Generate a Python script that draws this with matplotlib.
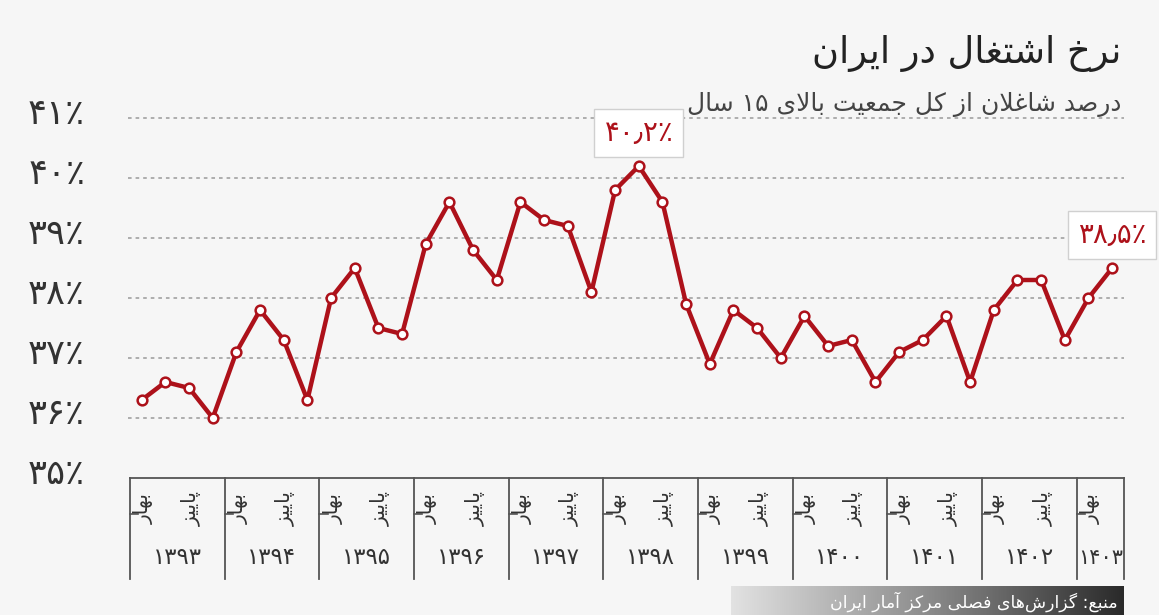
import re
import numpy as np
import matplotlib
matplotlib.use("Agg")
import matplotlib.pyplot as plt
from matplotlib import font_manager
from matplotlib.ft2font import FT2Font
from matplotlib.colors import LinearSegmentedColormap

# --- data (نرخ اشتغال فصلی) ---
years = [1393, 1394, 1395, 1396, 1397, 1398, 1399, 1400, 1401, 1402, 1403]
rate = [36.3, 36.6, 36.5, 36.0,
        37.1, 37.8, 37.3, 36.3,
        38.0, 38.5, 37.5, 37.4,
        38.9, 39.6, 38.8, 38.3,
        39.6, 39.3, 39.2, 38.1,
        39.8, 40.2, 39.6, 37.9,
        36.9, 37.8, 37.5, 37.0,
        37.7, 37.2, 37.3, 36.6,
        37.1, 37.3, 37.7, 36.6,
        37.8, 38.3, 38.3, 37.3,
        38.0, 38.5]
season_labels = ["بهار", "پاییز"]   # فصل اول و سوم هر سال
yticks = [35, 36, 37, 38, 39, 40, 41]
highlight = [21, 41]   # اوج و آخرین فصل

title = "نرخ اشتغال در ایران"
subtitle = "درصد شاغلان از کل جمعیت بالای ۱۵ سال"
source = "منبع: گزارش\u200cهای فصلی مرکز آمار ایران"

# --- شکل‌دهی حروف فارسی (matplotlib خودش انجام نمی‌دهد) ---
FORMS = {
    '\u0627': ('\uFE8D', '\uFE8E'),
    '\u0622': ('\uFE81', '\uFE82'),
    '\u062F': ('\uFEA9', '\uFEAA'),
    '\u0631': ('\uFEAD', '\uFEAE'),
    '\u0632': ('\uFEAF', '\uFEB0'),
    '\u0628': ('\uFE8F', '\uFE90', '\uFE91', '\uFE92'),
    '\u062A': ('\uFE95', '\uFE96', '\uFE97', '\uFE98'),
    '\u062C': ('\uFE9D', '\uFE9E', '\uFE9F', '\uFEA0'),
    '\u062E': ('\uFEA5', '\uFEA6', '\uFEA7', '\uFEA8'),
    '\u0633': ('\uFEB1', '\uFEB2', '\uFEB3', '\uFEB4'),
    '\u0634': ('\uFEB5', '\uFEB6', '\uFEB7', '\uFEB8'),
    '\u0635': ('\uFEB9', '\uFEBA', '\uFEBB', '\uFEBC'),
    '\u0639': ('\uFEC9', '\uFECA', '\uFECB', '\uFECC'),
    '\u063A': ('\uFECD', '\uFECE', '\uFECF', '\uFED0'),
    '\u0641': ('\uFED1', '\uFED2', '\uFED3', '\uFED4'),
    '\u0644': ('\uFEDD', '\uFEDE', '\uFEDF', '\uFEE0'),
    '\u0645': ('\uFEE1', '\uFEE2', '\uFEE3', '\uFEE4'),
    '\u0646': ('\uFEE5', '\uFEE6', '\uFEE7', '\uFEE8'),
    '\u0647': ('\uFEE9', '\uFEEA', '\uFEEB', '\uFEEC'),
    '\u067E': ('\uFB56', '\uFB57', '\uFB58', '\uFB59'),
    '\u06A9': ('\uFB8E', '\uFB8F', '\uFB90', '\uFB91'),
    '\u06AF': ('\uFB92', '\uFB93', '\uFB94', '\uFB95'),
    '\u06CC': ('\uFBFC', '\uFBFD', '\uFBFE', '\uFBFF'),
}
# اگر فونت شکل فارسی را نداشت: ی با الف مقصوره/یای عربی، ک با کاف عربی
ALT = {
    '\u06CC': ('\uFEEF', '\uFEF0', '\uFEF3', '\uFEF4'),
    '\u06A9': ('\u06A9', '\u06A9', '\uFEDB', '\uFEDC'),
}
LAM_ALEF = {'\u0627': ('\uFEFB', '\uFEFC'), '\u0622': ('\uFEF5', '\uFEF6')}

_font = FT2Font(font_manager.findfont('DejaVu Sans'))


def has(ch):
    return _font.get_char_index(ord(ch)) != 0


def pick(c, k):
    g = FORMS[c][k]
    if has(g):
        return g
    if c in ALT and has(ALT[c][k]):
        return ALT[c][k]
    return c


def fa(s):
    s = s.replace('\u064A', '\u06CC').replace('\u0643', '\u06A9')
    out = []
    i = 0
    n = len(s)
    while i < n:
        c = s[i]
        if c not in FORMS:
            out.append(c if c != '\u200c' else '')
            i += 1
            continue
        prev = s[i - 1] if i > 0 else ''
        join_prev = prev in FORMS and len(FORMS[prev]) == 4
        nxt = s[i + 1] if i + 1 < n else ''
        if c == '\u0644' and nxt in LAM_ALEF:
            out.append(LAM_ALEF[nxt][1 if join_prev else 0])
            i += 2
            continue
        join_next = len(FORMS[c]) == 4 and nxt in FORMS
        if join_prev and join_next:
            out.append(pick(c, 3))
        elif join_prev:
            out.append(pick(c, 1))
        elif join_next:
            out.append(pick(c, 2))
        else:
            out.append(pick(c, 0))
        i += 1
    vis = ''.join(out)[::-1]
    return re.sub('[\u06F0-\u06F9]+', lambda m: m.group(0)[::-1], vis)


def digits(s):
    return s.translate(str.maketrans('0123456789.', '۰۱۲۳۴۵۶۷۸۹٫'))


plt.rcParams['font.family'] = ['DejaVu Sans']
red = '#ad111a'
bg = '#f6f6f6'
ink = '#333333'

fig = plt.figure(figsize=(11.59, 6.15), dpi=100, facecolor=bg)
W, H = 1159, 615
# محور اصلی: x از -0.58 (128px) تا 41.5 (1124px)، y از 35 (478px) تا 41.3 (100px)
ax = fig.add_axes([128 / W, 1 - 478 / H, (1124 - 128) / W, 378 / H])
ax.set_facecolor(bg)
x = np.arange(len(rate))
ax.set_xlim(-0.58, 41.5)
ax.set_ylim(35, 41.3)

for y in yticks[1:]:
    ax.axhline(y, color='#a8a8a8', lw=1.3, ls=(0, (2, 2.2)), zorder=1)

ax.plot(x, rate, color=red, lw=3.2, zorder=3,
        marker='o', ms=7, mfc='white', mec=red, mew=1.8)

for i in highlight:
    ax.annotate(digits(f"{rate[i]:.1f}") + '٪', (x[i], rate[i]),
                xytext=(0, 24), textcoords='offset points',
                ha='center', va='center', fontsize=20, color=red,
                annotation_clip=False, zorder=5,
                bbox=dict(boxstyle='square,pad=0.36', fc='white', ec='#d0d0d0', lw=1))

ax.set_xticks([])
ax.set_yticks([])
for s in ax.spines.values():
    s.set_visible(False)

# برچسب‌های محور y
for y in yticks:
    ax.text(-0.58 - 43 / 23.7, y + 0.07, digits(str(y)) + '٪', ha='right', va='center',
            fontsize=25.5, color=ink, clip_on=False)

# جعبه سال‌ها و فصل‌ها زیر نمودار
bottom = 35 - 101 / 60
ax.plot([-0.5, 41.5], [35, 35], color='#555555', lw=1.3, clip_on=False)
bounds = [4 * k - 0.5 for k in range(len(years))] + [len(rate) - 0.5]
for b in bounds:
    ax.plot([b, b], [35, bottom], color='#555555', lw=1.3, clip_on=False)
for k, yr in enumerate(years):
    q0 = 4 * k
    ax.plot([q0 - 0.5, q0 - 0.15], [35 - 36 / 60] * 2, color='#555555', lw=1.2, clip_on=False)
    for j, lab in enumerate(season_labels):
        q = q0 + 2 * j
        if q < len(rate):
            ax.text(q + 0.1, 35 - 31 / 60, fa(lab), rotation=90, ha='center', va='center',
                    fontsize=14.5, color=ink, clip_on=False)
    last = min(q0 + 3, len(rate) - 1)
    ax.text((q0 + last) / 2, 35 - 80 / 60, digits(str(yr)), ha='center', va='center',
            fontsize=15 if last - q0 < 3 else 16.5, color=ink, clip_on=False)

# عنوان
fig.text(1121 / W, 1 - 63 / H, fa(title), ha='right', va='baseline', fontsize=26.5, color='#222222')
fig.text(1121 / W, 1 - 111 / H, fa(subtitle), ha='right', va='baseline', fontsize=18, color='#444444')

# منبع با پس‌زمینه گرادیانی
sax = fig.add_axes([731 / W, 0, (1124 - 731) / W, 29 / H])
cmap = LinearSegmentedColormap.from_list('g', ['#e2e2e2', '#8c8c8c', '#2a2a2a'])
sax.imshow(np.linspace(0, 1, 256)[None, :], aspect='auto', cmap=cmap, extent=[0, 1, 0, 1])
sax.axis('off')
sax.text(0.985, 0.45, fa(source), ha='right', va='center', fontsize=12.5, color='white',
         transform=sax.transAxes)

fig.savefig('out.png', dpi=100, facecolor=bg)
